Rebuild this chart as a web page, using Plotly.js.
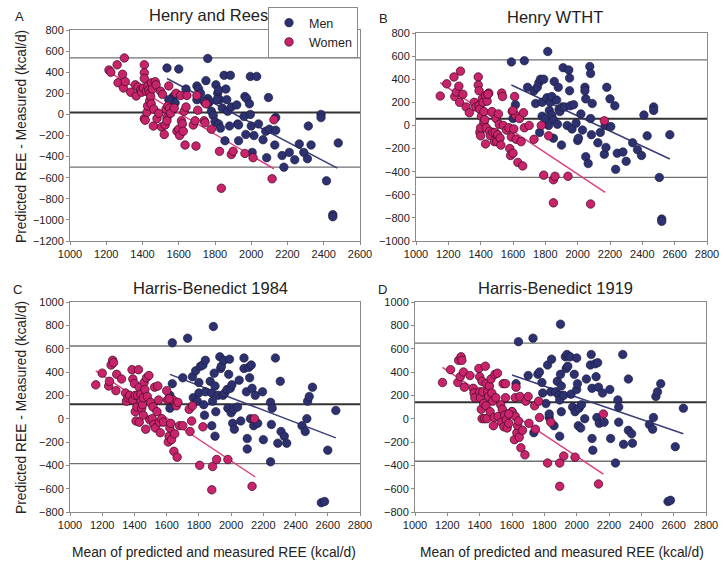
<!DOCTYPE html>
<html><head><meta charset="utf-8">
<script src="https://cdn.plot.ly/plotly-3.0.1.min.js"></script>
<style>html,body{margin:0;padding:0;background:#fff}#chart{width:724px;height:565px}</style>
</head><body><div id="chart"></div>
<script>
// ---- Panel A: Henry and Rees ----
const aWomenX=[1215,1225,1260,1265,1290,1295,1300,1305,1335,1360,1365,1375,1390,1395,1405,1410,1410,1410,1410,1415,1420,1425,1428,1430,1435,1440,1440,1445,1448,1450,1455,1460,1462,1470,1475,1480,1490,1500,1505,1510,1520,1525,1530,1535,1535,1540,1545,1550,1555,1575,1585,1590,1600,1605,1610,1615,1620,1625,1630,1635,1640,1645,1680,1690,1695,1700,1705,1740,1745,1750,1780,1825,1835,1890,1900,1965,2010,2115,2125];
const aWomenY=[420,400,470,300,380,250,535,310,210,280,175,260,230,210,250,470,395,340,-40,-55,220,20,80,270,230,200,130,170,100,300,240,-110,50,310,280,-40,10,220,-120,190,-190,-100,50,-30,-60,80,270,60,10,60,200,-160,-140,-200,180,-60,-90,-160,30,-290,70,180,-100,-60,-300,180,40,-60,-80,100,-140,-350,-700,-380,-350,-370,-410,-610,-50];
const aMenX=[1535,1600,1760,1640,1570,1580,1700,1710,1720,1750,1760,1770,1780,1790,1800,1805,1815,1820,1825,1840,1850,1860,1865,1870,1885,1880,1890,1820,1830,1855,1920,1925,1930,1960,1965,1970,1975,1990,1995,1995,2000,2005,2015,2030,2040,2065,2080,2085,2095,2100,2130,2135,2135,2170,2180,2210,2240,2265,2290,2310,2315,2330,2385,2385,2415,2450,2450,2480,1700,1740,1760,1810,1930,1545];
const aMenY=[440,430,530,240,170,110,270,240,200,320,150,120,30,-10,-70,280,200,230,140,60,370,240,140,30,370,-110,70,-90,-130,-250,90,-90,-250,-20,170,-190,150,100,360,0,-110,-360,-200,360,-90,-240,-160,-410,160,-140,-290,-30,-150,-390,-500,-360,-430,-280,-360,-420,-110,-290,0,-30,-630,-950,-970,-270,140,120,100,140,-100,140];
// ---- Panel B: Henry WTHT ----
const bWomenX=[1150,1190,1235,1240,1250,1265,1270,1275,1290,1310,1330,1360,1370,1385,1385,1390,1390,1395,1395,1400,1400,1405,1410,1415,1420,1420,1425,1430,1430,1435,1440,1445,1450,1455,1460,1470,1475,1485,1490,1495,1500,1505,1510,1515,1520,1525,1530,1535,1540,1560,1575,1580,1585,1590,1595,1600,1605,1610,1615,1620,1630,1640,1650,1660,1665,1670,1700,1730,1775,1790,1820,1850,1850,1860,1940,2080,2165,1445,1600];
const bWomenY=[255,360,420,250,290,340,200,470,270,160,110,200,160,420,350,300,170,140,-60,-90,-20,80,230,200,30,120,50,260,-160,-20,210,270,280,-50,-90,120,-60,-140,-60,60,-140,-80,100,10,-110,-170,280,250,0,-40,-20,-200,-260,-100,120,-240,-30,250,90,-120,-320,60,-140,-350,110,-20,0,-120,0,-430,-90,-470,-670,-440,-440,-680,40,270,130];
const bMenX=[1590,1600,1615,1670,1690,1730,1740,1750,1760,1770,1780,1765,1780,1790,1800,1810,1815,1820,1825,1830,1840,1840,1850,1850,1855,1870,1875,1880,1885,1890,1900,1905,1910,1920,1935,1945,1950,1950,1955,1965,1975,1990,2000,2005,2020,2030,2045,2045,2050,2050,2065,2075,2080,2080,2085,2090,2125,2140,2165,2170,2175,2180,2200,2205,2230,2235,2245,2280,2300,2340,2370,2395,2410,2430,2470,2470,2505,2520,2520,2570];
const bMenY=[550,60,180,560,330,300,190,330,370,400,200,-60,80,400,60,240,640,0,130,200,250,90,50,-110,380,220,10,330,140,120,-170,160,500,160,0,480,410,300,170,-30,180,20,-130,-110,100,-40,330,300,230,-270,-330,510,450,60,-80,190,-150,-60,-250,0,-190,330,230,-10,170,-380,-240,-230,-310,-150,-210,-260,90,-90,160,130,-450,-810,-830,-80];
// ---- Panel C: Harris-Benedict 1984 ----
const cWomenX=[1160,1200,1240,1245,1255,1265,1270,1285,1290,1320,1345,1350,1360,1370,1385,1390,1390,1400,1405,1405,1410,1415,1420,1425,1430,1430,1440,1440,1445,1450,1455,1455,1460,1465,1470,1475,1480,1490,1495,1500,1510,1515,1520,1525,1530,1540,1545,1550,1555,1560,1570,1580,1600,1605,1610,1615,1620,1625,1630,1640,1645,1650,1660,1665,1670,1680,1700,1740,1745,1755,1760,1805,1825,1880,1885,1910,1980,2130,2145,1615];
const cWomenY=[290,390,280,320,460,500,480,240,380,340,220,150,180,200,420,340,160,300,200,60,-20,100,200,420,270,-30,210,150,90,120,30,180,310,250,-90,350,190,370,-10,140,0,100,-50,270,-80,60,280,160,-30,-120,0,-30,240,160,-200,-150,-80,-40,-180,160,-280,-130,110,-330,140,-60,-60,80,-110,-20,110,-400,-70,-610,-410,-350,-350,-580,0,170];
const cMenX=[1635,1635,1620,1620,1700,1730,1760,1765,1780,1790,1800,1800,1810,1825,1830,1835,1840,1840,1870,1880,1885,1890,1895,1900,1900,1905,1880,1920,1930,1935,1940,1950,1955,1960,1975,1980,1985,1990,1995,2000,2005,2010,2015,2020,2040,2050,2060,2080,2080,2095,2100,2100,2110,2115,2120,2125,2130,2140,2150,2165,2195,2200,2245,2245,2250,2255,2275,2290,2305,2310,2330,2345,2440,2460,2470,2475,2485,2505,2560,2580,2600,2650];
const cMenY=[650,300,90,200,350,690,360,180,410,150,310,220,450,460,120,30,500,230,320,220,150,790,390,280,-150,60,-60,200,530,430,450,200,500,220,250,90,380,510,260,50,290,-40,80,-90,100,330,-20,430,520,230,-170,-260,440,350,0,460,260,-60,200,-40,230,-180,140,-370,-50,90,520,-210,320,-110,-150,-210,-60,-110,0,150,190,270,-720,-710,-270,70];
// ---- Panel D: Harris-Benedict 1919 ----
const dWomenX=[1170,1220,1265,1270,1280,1285,1290,1300,1305,1340,1360,1365,1370,1395,1400,1400,1405,1410,1415,1415,1420,1425,1430,1435,1440,1440,1445,1450,1455,1460,1465,1470,1475,1480,1485,1490,1495,1500,1510,1515,1530,1535,1540,1545,1550,1555,1560,1560,1565,1570,1580,1600,1615,1620,1620,1625,1630,1635,1640,1645,1650,1655,1665,1680,1685,1700,1705,1740,1745,1765,1770,1820,1840,1895,1895,1920,1990,2135,2165,1580];
const dWomenY=[310,420,310,500,360,530,500,400,270,370,260,220,180,430,360,230,180,80,320,0,230,130,0,450,300,110,0,230,190,280,60,340,220,150,-60,10,380,180,390,20,120,-30,80,300,-70,30,300,180,-10,-80,-40,60,-180,180,20,270,-120,-60,-20,-160,190,-250,-100,-310,150,190,-40,110,-90,150,10,-380,-30,-380,-580,-320,-330,-560,40,40];
const dMenX=[1600,1625,1640,1700,1730,1735,1760,1770,1785,1790,1810,1820,1830,1830,1840,1845,1860,1870,1880,1890,1895,1895,1900,1900,1905,1905,1920,1930,1935,1940,1945,1960,1965,1975,1985,1990,2000,2000,2005,2010,2015,2025,2030,2050,2060,2085,2090,2095,2095,2100,2115,2120,2125,2130,2135,2140,2160,2170,2205,2210,2240,2255,2260,2260,2285,2290,2320,2320,2340,2345,2450,2470,2475,2490,2500,2520,2565,2580,2610,2660];
const dMenY=[60,300,660,370,690,-120,380,400,310,220,130,460,10,40,230,510,-60,230,320,200,160,-150,810,380,280,60,200,530,430,550,450,530,210,100,380,60,520,250,300,-60,90,-80,120,0,340,460,550,260,-170,-270,470,360,10,480,270,-40,220,-30,250,-170,-380,160,100,-30,550,-220,340,-100,-130,-210,-50,-90,10,190,230,300,-710,-700,-240,90];
// ---- regression line endpoints (x, y) ----
const aWomenFitX=[1215,2125], aWomenFitY=[400,-515];
const aMenFitX=[1535,2475],   aMenFitY=[340,-510];
const bWomenFitX=[1150,2170], bWomenFitY=[370,-580];
const bMenFitX=[1590,2570],   bMenFitY=[350,-290];
const cWomenFitX=[1160,2150], cWomenFitY=[410,-500];
const cMenFitX=[1620,2650],   cMenFitY=[380,-165];
const dWomenFitX=[1170,2165], dWomenFitY=[440,-475];
const dMenFitX=[1600,2660],   dMenFitY=[375,-130];
// ---- mean bias and limits of agreement [upper, mean, lower] ----
const aLimits=[535,17,-500];
const bLimits=[568,58,-450];
const cLimits=[623,123,-386];
const dLimits=[647,140,-365];
const panelTitles=["Henry and Rees","Henry WTHT","Harris-Benedict 1984","Harris-Benedict 1919"];
const panelLetters=["A","B","C","D"];
const yTitle="Predicted REE - Measured (kcal/d)";
const xTitle="Mean of predicted and measured REE (kcal/d)";

const MEN='#2d3170', WOMEN='#c8236b', MENLINE='#3a3d78', WOMENLINE='#dc3f80';
const FONT='Liberation Sans, Arial, sans-serif';
const panels=[
 {wx:aWomenX,wy:aWomenY,mx:aMenX,my:aMenY,wf:[aWomenFitX,aWomenFitY],mf:[aMenFitX,aMenFitY],lim:aLimits},
 {wx:bWomenX,wy:bWomenY,mx:bMenX,my:bMenY,wf:[bWomenFitX,bWomenFitY],mf:[bMenFitX,bMenFitY],lim:bLimits},
 {wx:cWomenX,wy:cWomenY,mx:cMenX,my:cMenY,wf:[cWomenFitX,cWomenFitY],mf:[cMenFitX,cMenFitY],lim:cLimits},
 {wx:dWomenX,wy:dWomenY,mx:dMenX,my:dMenY,wf:[dWomenFitX,dWomenFitY],mf:[dMenFitX,dMenFitY],lim:dLimits}
];
const traces=[], shapes=[];
panels.forEach((p,i)=>{
  const sfx=i===0?'':String(i+1);
  const xa='x'+sfx, ya='y'+sfx;
  traces.push({type:'scatter',mode:'lines',x:p.wf[0],y:p.wf[1],xaxis:xa,yaxis:ya,line:{color:WOMENLINE,width:1.5},showlegend:false,hoverinfo:'skip'});
  traces.push({type:'scatter',mode:'lines',x:p.mf[0],y:p.mf[1],xaxis:xa,yaxis:ya,line:{color:MENLINE,width:1.5},showlegend:false,hoverinfo:'skip'});
  traces.push({type:'scatter',mode:'markers',name:'Men',x:p.mx,y:p.my,xaxis:xa,yaxis:ya,
    marker:{color:MEN,size:8.5,line:{color:'#1a1a3a',width:0.6}},showlegend:i===0,legendrank:1});
  traces.push({type:'scatter',mode:'markers',name:'Women',x:p.wx,y:p.wy,xaxis:xa,yaxis:ya,
    marker:{color:WOMEN,size:8.5,line:{color:'#3a0a20',width:0.7}},showlegend:i===0,legendrank:2});
  p.lim.forEach((v,k)=>{
    shapes.push({type:'line',xref:xa+' domain',x0:0,x1:1,yref:ya,y0:v,y1:v,
      line:{color:k===1?'#333':'#707070',width:k===1?2:1.3},layer:'below'});
  });
});
const TICKFONT={size:11,color:'#222',family:FONT};
function xax(dom,rng,anchor){return {domain:dom,range:rng,dtick:200,tick0:1000,showgrid:false,zeroline:false,showline:true,mirror:true,linecolor:'#8a8a8a',linewidth:1,ticks:'outside',ticklen:3,tickcolor:'#8a8a8a',tickfont:TICKFONT,anchor:anchor};}
function yax(dom,rng,anchor){return {domain:dom,range:rng,dtick:200,showgrid:false,zeroline:false,showline:true,mirror:true,linecolor:'#8a8a8a',linewidth:1,ticks:'outside',ticklen:3,tickcolor:'#8a8a8a',tickfont:TICKFONT,anchor:anchor};}
const W=724,H=565;
const fx=v=>v/W, fy=v=>1-v/H;
function ann(text,x,y,size,angle){
  return {text:text,x:fx(x),y:fy(y),xref:'paper',yref:'paper',xanchor:'center',yanchor:'middle',showarrow:false,textangle:angle||0,font:{size:size,family:FONT,color:'#222'}};
}
const layout={
  width:W,height:H,margin:{l:0,r:0,t:0,b:0},paper_bgcolor:'#fff',plot_bgcolor:'#fff',
  font:{family:FONT,color:'#222'},
  xaxis: xax([fx(70),fx(360)],[1000,2600],'y'),
  yaxis: yax([fy(241),fy(30)],[-1200,800],'x'),
  xaxis2:xax([fx(416),fx(707)],[1000,2800],'y2'),
  yaxis2:yax([fy(241),fy(33)],[-1000,800],'x2'),
  xaxis3:xax([fx(70),fx(360)],[1000,2800],'y3'),
  yaxis3:yax([fy(512),fy(302)],[-800,1000],'x3'),
  xaxis4:xax([fx(415),fx(706)],[1000,2800],'y4'),
  yaxis4:yax([fy(512),fy(302)],[-800,1000],'x4'),
  shapes:shapes,
  showlegend:true,
  legend:{x:fx(268),y:fy(7),xanchor:'left',yanchor:'top',bgcolor:'#fff',bordercolor:'#8a8a8a',borderwidth:1,font:{size:12.5,family:FONT,color:'#222'},tracegroupgap:0},
  annotations:[
    ann(panelTitles[0],208,15,16.5),
    ann(panelTitles[1],555,17,16.5),
    ann(panelTitles[2],210,288,16.5),
    ann(panelTitles[3],555,288,16.5),
    ann(panelLetters[0],19,16,13),
    ann(panelLetters[1],383,18,13),
    ann(panelLetters[2],17,289,13),
    ann(panelLetters[3],382,289,13),
    ann(yTitle,21,137,13.8,-90),
    ann(yTitle,21,408,13.8,-90),
    ann(xTitle,214,552,13.8),
    ann(xTitle,562,552,13.8)
  ]
};
Plotly.newPlot('chart',traces,layout,{displayModeBar:false,staticPlot:true});
</script></body></html>
